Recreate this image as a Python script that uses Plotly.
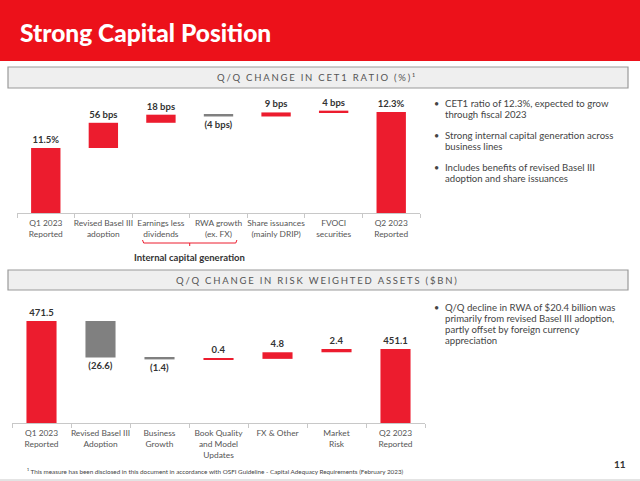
import plotly.graph_objects as go

W, H = 640, 481


def px(x):
    return x / W


def py(y):
    return 1 - y / H


TITLE_RED = "#EC111A"
BAR_RED = "#EC1C2E"
GRAY = "#808080"
TXT = "#333333"
BODY_FONT = "Lato"

# ---------------- data ----------------
title_text = "Strong Capital Position"

cet1_header = "Q/Q CHANGE IN CET1 RATIO (%)¹"
cet1_categories = [
    "Q1 2023<br>Reported",
    "Revised Basel III<br>adoption",
    "Earnings less<br>dividends",
    "RWA growth<br>(ex. FX)",
    "Share issuances<br>(mainly DRIP)",
    "FVOCI<br>securities",
    "Q2 2023<br>Reported",
]
cet1_measures = ["absolute", "relative", "relative", "relative", "relative", "relative", "absolute"]
cet1_values = [11.5, 0.56, 0.18, -0.04, 0.09, 0.04, 12.3]
cet1_labels = ["11.5%", "56 bps", "18 bps", "(4 bps)", "9 bps", "4 bps", "12.3%"]
cet1_group_label = "Internal capital generation"
cet1_bullets = [
    ["CET1 ratio of 12.3%, expected to grow", "through fiscal 2023"],
    ["Strong internal capital generation across", "business lines"],
    ["Includes benefits of revised Basel III", "adoption and share issuances"],
]

rwa_header = "Q/Q CHANGE IN RISK WEIGHTED ASSETS ($BN)"
rwa_categories = [
    "Q1 2023<br>Reported",
    "Revised Basel III<br>Adoption",
    "Business<br>Growth",
    "Book Quality<br>and Model<br>Updates",
    "FX & Other",
    "Market<br>Risk",
    "Q2 2023<br>Reported",
]
rwa_measures = ["absolute", "relative", "relative", "relative", "relative", "relative", "absolute"]
rwa_values = [471.5, -26.6, -1.4, 0.4, 4.8, 2.4, 451.1]
rwa_labels = ["471.5", "(26.6)", "(1.4)", "0.4", "4.8", "2.4", "451.1"]
rwa_bullets = [
    ["Q/Q decline in RWA of $20.4 billion was",
     "primarily from revised Basel III adoption,",
     "partly offset by foreign currency",
     "appreciation"],
]

footnote = ("¹ This measure has been disclosed in this document in accordance with "
            "OSFI Guideline - Capital Adequacy Requirements (February 2023)")
page_number = "11"


def spaced(s):
    return "\u2009\u200a".join(list(s))


fig = go.Figure()

common = dict(
    increasing=dict(marker=dict(color=BAR_RED)),
    decreasing=dict(marker=dict(color=GRAY)),
    totals=dict(marker=dict(color=BAR_RED)),
    connector=dict(visible=False),
    textposition="outside",
    outsidetextfont=dict(family=BODY_FONT, size=9.5, color=TXT, weight="bold"),
    hoverinfo="skip",
)

fig.add_trace(go.Waterfall(
    x=cet1_categories, y=cet1_values, measure=cet1_measures, text=cet1_labels,
    xaxis="x", yaxis="y", **common))
fig.add_trace(go.Waterfall(
    x=rwa_categories, y=rwa_values, measure=rwa_measures, text=rwa_labels,
    xaxis="x2", yaxis="y2", **common))

xaxis_style = dict(
    type="category", range=[-0.5, 6.5], showline=True, linecolor="#c8c8c8", linewidth=1,
    ticks="outside", tickson="boundaries", ticklen=4, tickcolor="#c8c8c8",
    tickangle=0, automargin=False, ticklabelstandoff=2,
    tickfont=dict(family=BODY_FONT, size=8.4, color="#555555"), showgrid=False,
    fixedrange=True,
)

fig.update_layout(
    width=W, height=H, margin=dict(l=0, r=0, t=0, b=0, autoexpand=False),
    paper_bgcolor="white", plot_bgcolor="rgba(0,0,0,0)",
    showlegend=False, waterfallgap=0.49,
    xaxis=dict(domain=[px(17), px(420)], anchor="y", **xaxis_style),
    yaxis=dict(domain=[py(213), py(92)], range=[10.056, 12.744], visible=False),
    xaxis2=dict(domain=[px(12), px(425)], anchor="y2", **xaxis_style),
    yaxis2=dict(domain=[py(423), py(295)], range=[397.2, 490.4], visible=False),
)

shapes = []
annotations = []

# title bar
shapes.append(dict(type="rect", xref="paper", yref="paper", x0=0, x1=1, y0=py(61), y1=1,
                   fillcolor=TITLE_RED, line=dict(width=0), layer="below"))
annotations.append(dict(xref="paper", yref="paper", x=px(18), y=py(33), xanchor="left",
                        yanchor="middle", showarrow=False, text=title_text,
                        font=dict(family="Lato", size=24.5, color="white", weight=900)))

# frame
shapes.append(dict(type="line", xref="paper", yref="paper", x0=0, x1=1, y0=py(480), y1=py(480),
                   line=dict(color="#c8c8c8", width=1)))

# header boxes
for (top, bot, text) in [(67, 88, cet1_header), (270, 290, rwa_header)]:
    shapes.append(dict(type="rect", xref="paper", yref="paper", x0=px(8), x1=px(628),
                       y0=py(bot), y1=py(top), fillcolor="#efefef",
                       line=dict(color="#9a9a9a", width=1.2), layer="below"))
    annotations.append(dict(xref="paper", yref="paper", x=px(316), y=py((top + bot) / 2),
                            xanchor="center", yanchor="middle", showarrow=False,
                            text=spaced(text),
                            font=dict(family=BODY_FONT, size=9.5, color="#555555")))

# bracket for internal capital generation (categories 2-3)
shapes.append(dict(type="path", xref="x", yref="paper",
                   path=f"M 1.68,{py(240)} L 1.70,{py(243)} L 3.30,{py(243)} L 3.32,{py(240)}",
                   line=dict(color=BAR_RED, width=1)))
shapes.append(dict(type="line", xref="x", yref="paper", x0=2.5, x1=2.5, y0=py(243), y1=py(246),
                   line=dict(color=BAR_RED, width=1)))
annotations.append(dict(xref="x", yref="paper", x=2.5, y=py(257), xanchor="center",
                        yanchor="middle", showarrow=False, text=f"<b>{cet1_group_label}</b>",
                        font=dict(family=BODY_FONT, size=9.5, color=TXT)))


def add_bullets(groups, y_start, group_gap):
    y = y_start
    for lines in groups:
        annotations.append(dict(xref="paper", yref="paper", x=px(436), y=py(y), xanchor="center",
                                yanchor="middle", showarrow=False, text="•",
                                font=dict(family=BODY_FONT, size=9, color="#444444")))
        for ln in lines:
            annotations.append(dict(xref="paper", yref="paper", x=px(443), y=py(y),
                                    xanchor="left", yanchor="middle", showarrow=False, text=ln,
                                    font=dict(family=BODY_FONT, size=9.6, color="#444444")))
            y += 11.3
        y += group_gap


add_bullets(cet1_bullets, 103, 9.5)
add_bullets(rwa_bullets, 307, 9.5)

annotations.append(dict(xref="paper", yref="paper", x=px(25), y=py(471), xanchor="left",
                        yanchor="middle", showarrow=False, text=footnote,
                        font=dict(family=BODY_FONT, size=6.3, color="#444444")))
annotations.append(dict(xref="paper", yref="paper", x=px(620), y=py(464), xanchor="center",
                        yanchor="middle", showarrow=False, text=f"<b>{page_number}</b>",
                        font=dict(family=BODY_FONT, size=10, color=TXT)))

fig.update_layout(shapes=shapes, annotations=annotations)

fig.write_html("out.html", config={"displayModeBar": False},
               post_script="document.body.style.margin='0';document.body.style.padding='0';")
